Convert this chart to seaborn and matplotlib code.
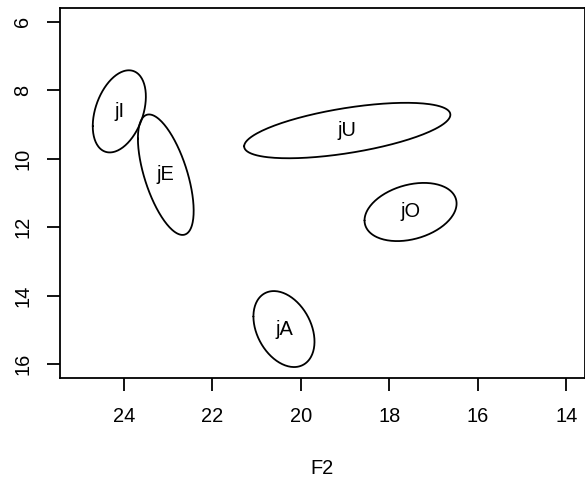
import numpy as np
import pandas as pd
import matplotlib
matplotlib.use("Agg")
import matplotlib.pyplot as plt
import seaborn as sns

# vowel ellipses: centre (F2, F1), half extents and correlation
vowels = ["jI", "jE", "jU", "jO", "jA"]
f2_centre = [24.10, 23.05, 18.95, 17.52, 20.38]
f1_centre = [8.62, 10.47, 9.18, 11.56, 14.98]
f2_half = [0.60, 0.63, 2.33, 1.04, 0.69]
f1_half = [1.20, 1.76, 0.81, 0.85, 1.11]
corr = [0.36, -0.60, 0.57, 0.29, -0.33]

x_ticks = [24, 22, 20, 18, 16, 14]
y_ticks = [6, 8, 10, 12, 14, 16]


def ellipse_points(cx, cy, sx, sy, r, n=200):
    t = np.linspace(0, 2 * np.pi, n)
    x = cx + sx * np.cos(t)
    y = cy + sy * (r * np.cos(t) + np.sqrt(1 - r ** 2) * np.sin(t))
    return x, y


rows = []
for v, cx, cy, sx, sy, r in zip(vowels, f2_centre, f1_centre, f2_half, f1_half, corr):
    ex, ey = ellipse_points(cx, cy, sx, sy, r)
    rows.append(pd.DataFrame({"vowel": v, "F2": ex, "F1": ey}))
df = pd.concat(rows, ignore_index=True)

sns.set_theme(style="white")
plt.rcParams["font.family"] = ["Liberation Sans", "DejaVu Sans"]

fig = plt.figure(figsize=(5.85, 4.79), dpi=100)
ax = fig.add_axes([60 / 585, 1 - 378 / 479, 524.5 / 585, 370 / 479])

sns.lineplot(data=df, x="F2", y="F1", units="vowel", estimator=None, sort=False,
             color="black", linewidth=1.3, ax=ax)

for v, cx, cy in zip(vowels, f2_centre, f1_centre):
    ax.text(cx, cy, v, ha="center", va="center", fontsize=14.4, color="black")

ax.set_xlim(25.44, 13.59)
ax.set_ylim(16.41, 5.60)
ax.set_xticks(x_ticks)
ax.set_yticks(y_ticks)
ax.set_xticklabels([str(t) for t in x_ticks])
ax.set_yticklabels([str(t) for t in y_ticks], rotation=90, va="center")

for s in ax.spines.values():
    s.set_color("black")
    s.set_linewidth(1.3)

ax.tick_params(axis="both", which="major", direction="out", length=9.4, width=1.3,
               color="black", labelsize=14.4, labelcolor="black",
               bottom=True, left=True)
ax.tick_params(axis="x", pad=11.8)
ax.tick_params(axis="y", pad=10.5)

ax.set_xlabel("F2", fontsize=14.4, color="black", labelpad=23.5)
ax.set_ylabel("")
ax.grid(False)

fig.savefig("out.png", dpi=100)
plt.close(fig)
